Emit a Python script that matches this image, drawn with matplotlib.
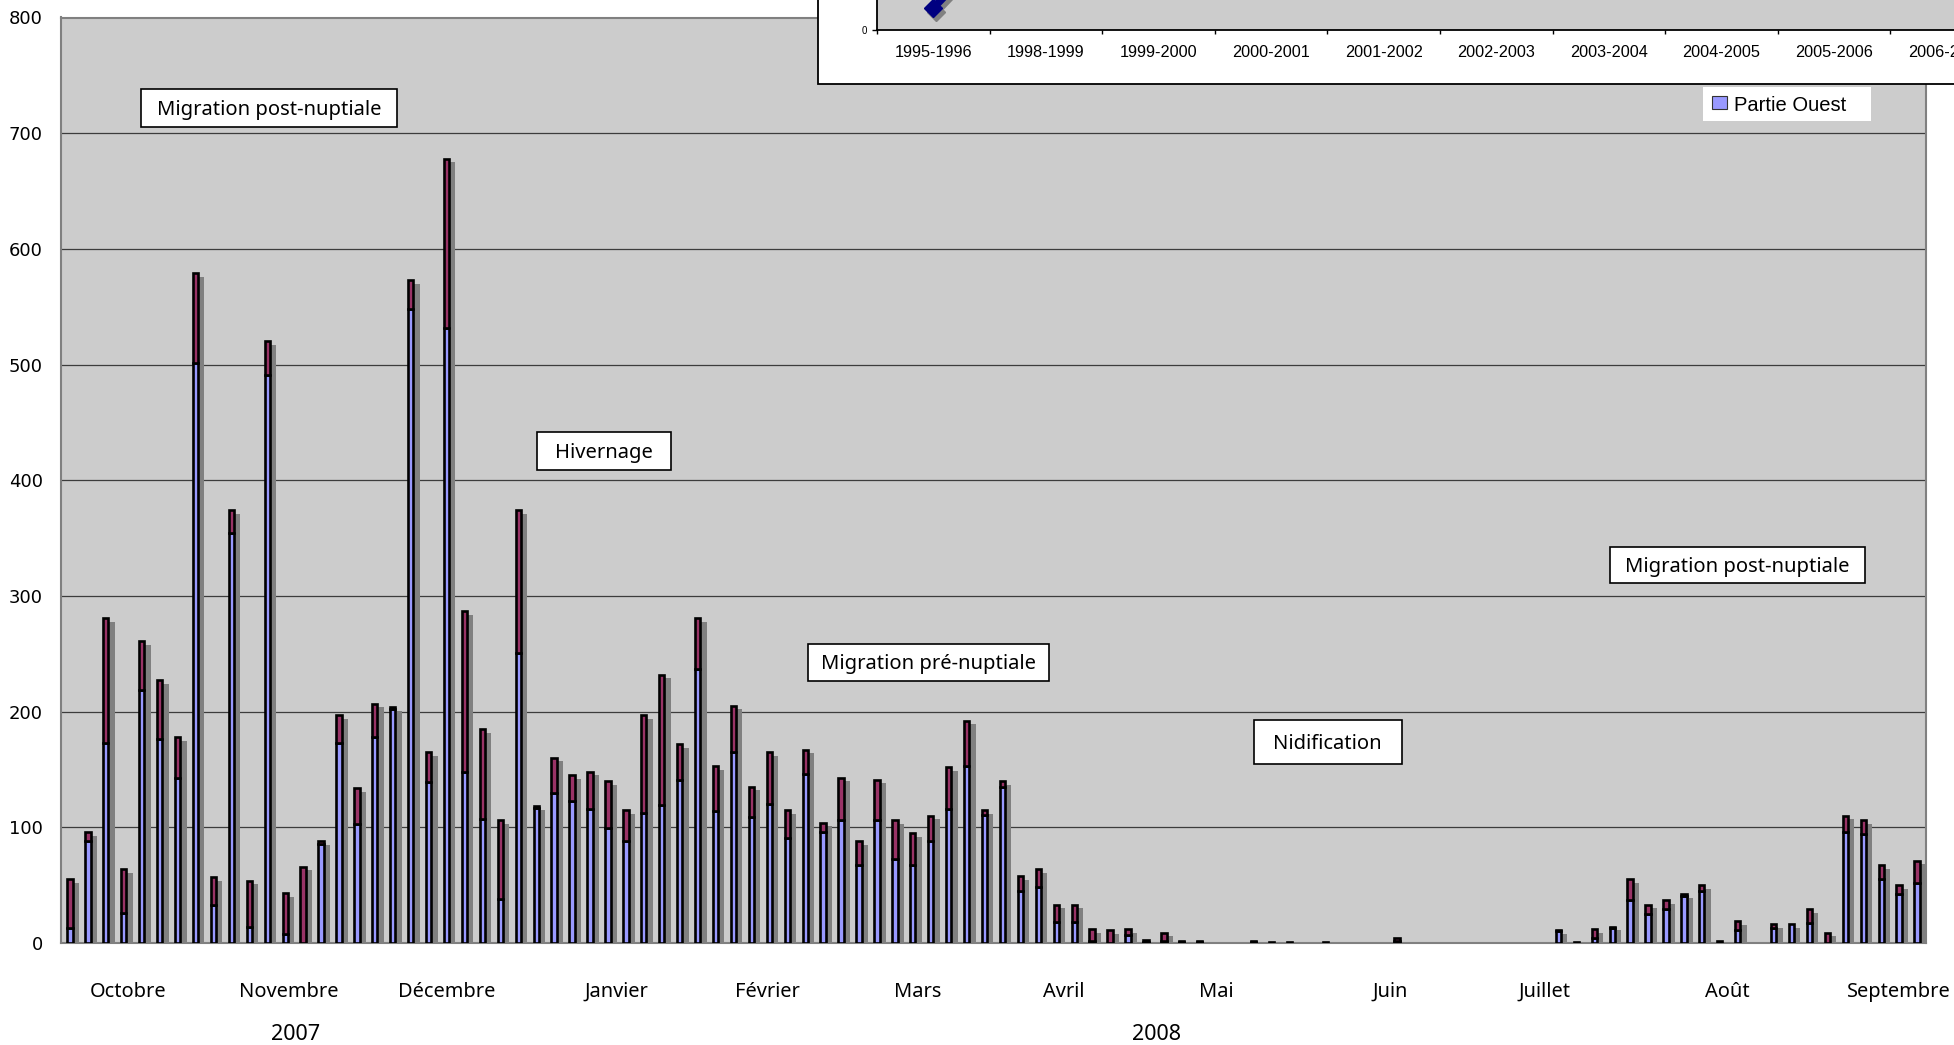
import matplotlib
matplotlib.use("Agg")
import matplotlib.pyplot as plt
import numpy as np
from matplotlib.patches import Rectangle
from matplotlib.transforms import offset_copy, blended_transform_factory

plt.rcParams["font.family"] = ["DejaVu Sans"]

# Half-weekly counts, October 2007 - September 2008
ouest = [13, 88, 173, 26, 219, 176, 143, 501, 33, 354,
         14, 491, 8, 0, 86, 173, 103, 178, 202, 548,
         139, 532, 148, 107, 38, 251, 117, 130, 123, 116,
         99, 88, 112, 119, 141, 237, 114, 165, 109, 120,
         91, 146, 96, 106, 67, 106, 73, 67, 88, 116,
         153, 111, 135, 45, 48, 18, 18, 2, 0, 7,
         1, 2, 1, 1, 0, 0, 1, 1, 1, 0,
         1, 0, 0, 0, 2, 0, 0, 0, 0, 0,
         0, 0, 0, 10, 1, 4, 13, 37, 25, 29,
         41, 45, 2, 11, 0, 13, 16, 17, 0, 96,
         94, 55, 42, 52]
est = [42, 8, 108, 38, 42, 51, 35, 78, 24, 20,
       40, 29, 35, 66, 2, 24, 31, 29, 2, 25,
       26, 146, 139, 78, 68, 123, 1, 30, 22, 32,
       41, 27, 85, 113, 31, 44, 39, 40, 26, 45,
       24, 21, 8, 37, 21, 35, 33, 28, 22, 36,
       39, 4, 5, 13, 16, 15, 15, 10, 11, 5,
       2, 7, 1, 1, 0, 0, 1, 0, 0, 0,
       0, 0, 0, 0, 2, 0, 0, 0, 0, 0,
       0, 0, 0, 1, 0, 8, 1, 18, 8, 8,
       1, 5, 0, 8, 0, 3, 0, 12, 9, 14,
       12, 12, 8, 19]

month_labels = ["Octobre", "Novembre", "Décembre", "Janvier", "Février", "Mars",
                "Avril", "Mai", "Juin", "Juillet", "Août", "Septembre"]
month_pos = [3.25, 12.2, 21.0, 30.5, 38.9, 47.3, 55.4, 63.9, 73.6, 82.25, 92.4, 102.0]
year_labels = ["2007", "2008"]
year_pos = [12.58, 60.6]
y_ticks = [0, 100, 200, 300, 400, 500, 600, 700, 800]

period_labels = ["Migration post-nuptiale", "Hivernage", "Migration pré-nuptiale",
                 "Nidification", "Migration post-nuptiale"]

# Small inset: yearly trend for the western part
inset_seasons = ["1995-1996", "1998-1999", "1999-2000", "2000-2001", "2001-2002",
                 "2002-2003", "2003-2004", "2004-2005", "2005-2006", "2006-2007"]
inset_values = [220, 1400]
legend_label = "Partie Ouest"

# ---------------------------------------------------------------- layout
W, H = 1954, 1045
fig = plt.figure(figsize=(W / 100, H / 100), dpi=100, facecolor="white")


def px_axes(x0, y0, x1, y1):
    return [x0 / W, 1 - y1 / H, (x1 - x0) / W, (y1 - y0) / H]


AX_L, AX_T, AX_R, AX_B = 61, 17.5, 1926, 943
ax = fig.add_axes(px_axes(AX_L, AX_T, AX_R, AX_B), zorder=1)
ax.set_facecolor("#CCCCCC")
n = len(ouest)
ax.set_xlim(-0.5, n - 0.5)
ax.set_ylim(0, 800)

x = np.arange(n)
o = np.array(ouest, dtype=float)
e = np.array(est, dtype=float)
tot = o + e

BLUE, MAROON, SHADOW = "#9999FF", "#993366", "#808080"
EDGE_LW = 1.9

shadow_tr = offset_copy(ax.transData, fig=fig, x=5, y=-3.6, units="dots")
ax.bar(x, tot, width=0.44, color=SHADOW, linewidth=0, transform=shadow_tr, zorder=2)
ax.bar(x, o, width=0.296, color=BLUE, edgecolor="black",
       linewidth=np.where(o > 0, EDGE_LW, 0), zorder=3)
ax.bar(x, e, bottom=o, width=0.296, color=MAROON, edgecolor="black",
       linewidth=np.where(e > 0, EDGE_LW, 0), zorder=3)

ax.set_axisbelow(True)
ax.yaxis.grid(True, color="#3c3c3c", linewidth=0.9)
ax.set_yticks(y_ticks)
ax.set_xticks([])
ax.tick_params(axis="y", length=0, pad=13.2, labelsize=13)
for sp in ax.spines.values():
    sp.set_color("#808080")
    sp.set_linewidth(1.5)

# month and year labels under the axis
ax_h = AX_B - AX_T
ax_w = AX_R - AX_L
lab_tr = blended_transform_factory(ax.transData, ax.transAxes)
for lab, pos in zip(month_labels, month_pos):
    ax.text(pos, -(997 - AX_B) / ax_h, lab, transform=lab_tr, ha="center",
            va="baseline", fontsize=14.4, family="Noto Sans", clip_on=False)
for lab, pos in zip(year_labels, year_pos):
    ax.text(pos, -(1040.5 - AX_B) / ax_h, lab, transform=lab_tr, ha="center",
            va="baseline", fontsize=15.5, family="Noto Sans", clip_on=False)

# period boxes (pixel frames)
box_px = [(140.6, 89, 397.3, 126.7), (537, 432.4, 671, 469.7),
          (808.3, 643.5, 1049, 681), (1253.6, 720, 1402, 764),
          (1609.8, 547, 1865.3, 583)]
BOX_FS = 14.5
cap_px = 0.714 * BOX_FS * 100 / 72
for lab, (bx0, by0, bx1, by1) in zip(period_labels, box_px):
    ax.add_patch(Rectangle(((bx0 - AX_L) / ax_w, (AX_B - by1) / ax_h),
                           (bx1 - bx0) / ax_w, (by1 - by0) / ax_h,
                           transform=ax.transAxes, facecolor="white",
                           edgecolor="black", linewidth=1.2, zorder=6))
    base = (by0 + by1) / 2 + cap_px / 2
    ax.text(((bx0 + bx1) / 2 - AX_L) / ax_w, (AX_B - base) / ax_h, lab,
            transform=ax.transAxes, ha="center", va="baseline",
            fontsize=BOX_FS, family="Noto Sans", zorder=7)

# ---------------------------------------------------------------- inset
fig.add_artist(Rectangle((817.7 / W, 1 - 84 / H), (W + 20 - 817.7) / W, 100 / H,
                         transform=fig.transFigure, facecolor="white",
                         edgecolor="black", linewidth=1.3, zorder=4))

CAT_W = 112.6
ax2 = fig.add_axes(px_axes(877, 30 - 200, 877 + CAT_W * len(inset_seasons), 30), zorder=5)
ax2.set_facecolor("#CCCCCC")
ax2.set_xlim(-0.5, len(inset_seasons) - 0.5)
ax2.set_ylim(0, 2000)
for side in ("top", "right"):
    ax2.spines[side].set_visible(False)
for side in ("left", "bottom"):
    ax2.spines[side].set_color("black")
    ax2.spines[side].set_linewidth(1.3)
ax2.set_xticks(np.arange(len(inset_seasons)))
ax2.set_xticklabels(inset_seasons, family="Liberation Sans", fontsize=11.7)
ax2.set_xticks(np.arange(len(inset_seasons) + 1) - 0.5, minor=True)
ax2.tick_params(axis="x", which="major", length=0, pad=11)
ax2.tick_params(axis="x", which="minor", length=3, width=1, direction="out", color="black")
ax2.set_yticks([0])
ax2.set_yticklabels(["0"], family="Liberation Sans", fontsize=7)
ax2.tick_params(axis="y", length=3.5, width=1, pad=4)

ix = np.arange(len(inset_values))
ax2.plot(ix, inset_values, color="#808080", lw=5.5, marker="D", ms=9,
         transform=offset_copy(ax2.transData, fig=fig, x=3, y=-4, units="dots"))
ax2.plot(ix, inset_values, color="#000080", lw=5.5, marker="D", ms=9, mec="#000080")

# legend fragment below the inset
fig.add_artist(Rectangle((1703 / W, 1 - 121 / H), 168 / W, 34 / H,
                         transform=fig.transFigure, facecolor="white",
                         edgecolor="none", zorder=6))
fig.add_artist(Rectangle((1712 / W, 1 - 109 / H), 15 / W, 13 / H,
                         transform=fig.transFigure, facecolor=BLUE,
                         edgecolor="#333333", linewidth=0.8, zorder=7))
fig.text(1734 / W, 1 - 110.7 / H, legend_label, family="Liberation Sans",
         fontsize=14.5, ha="left", va="baseline", zorder=7)

fig.savefig("out.png", dpi=100)
